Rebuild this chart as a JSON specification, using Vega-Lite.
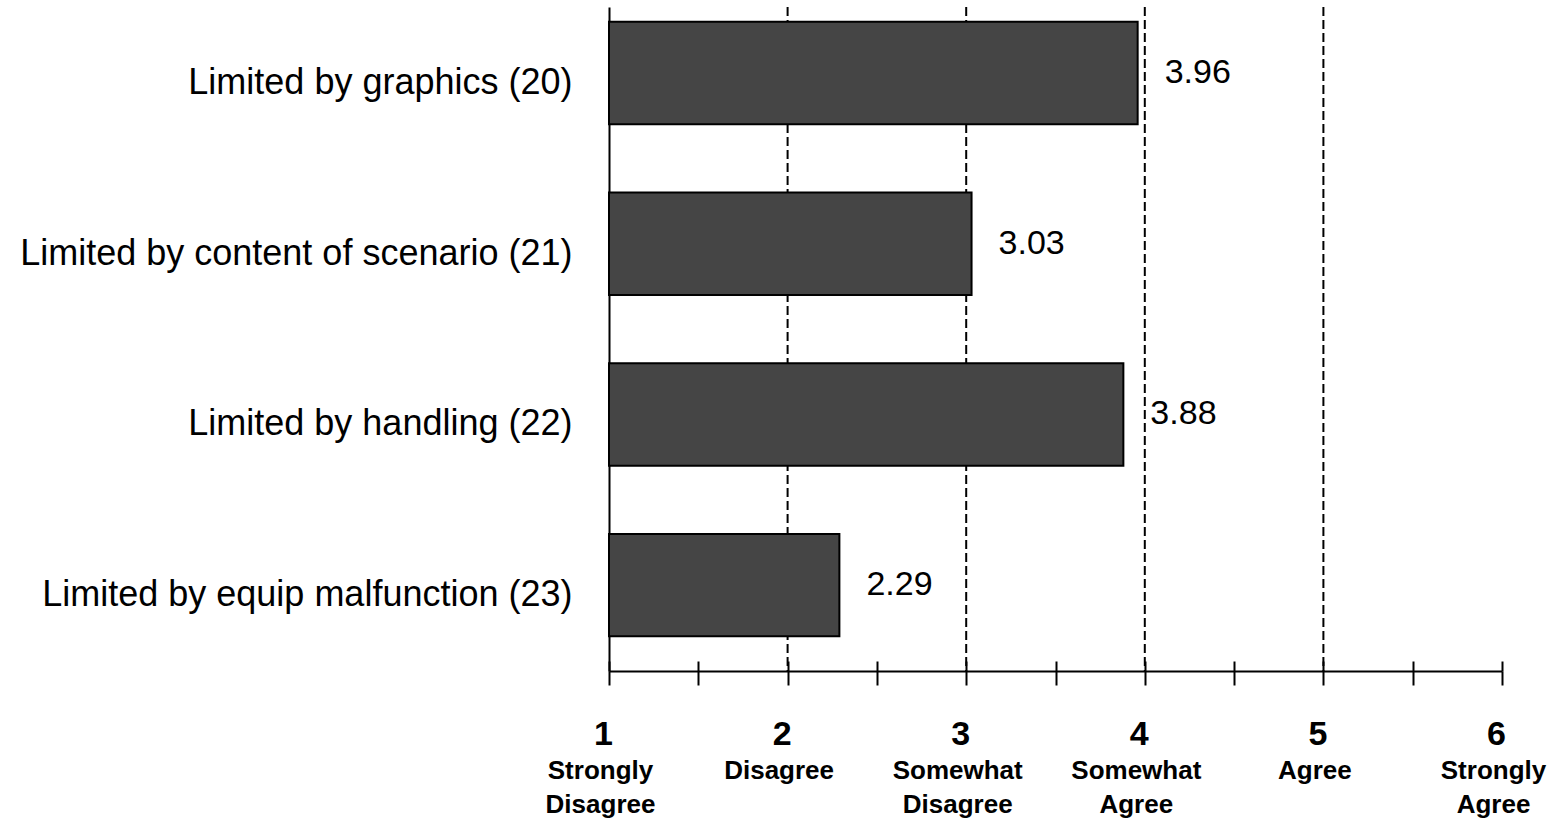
{
  "$schema": "https://vega.github.io/schema/vega-lite/v6.json",
  "autosize": "none",
  "width": 893,
  "height": 664,
  "padding": {"left": 609, "top": 7, "right": 54, "bottom": 162},
  "background": "white",
  "config": {"view": {"stroke": null}, "font": "Liberation Sans"},
  "datasets": {
    "items": [
      {"item": "Limited by graphics (20)", "score": 3.96},
      {"item": "Limited by content of scenario (21)", "score": 3.03},
      {"item": "Limited by handling (22)", "score": 3.88},
      {"item": "Limited by equip malfunction (23)", "score": 2.29}
    ],
    "grid": [{"g": 2}, {"g": 3}, {"g": 4}, {"g": 5}]
  },
  "layer": [
    {
      "data": {"name": "grid"},
      "mark": {"type": "rule", "color": "black", "strokeWidth": 2, "strokeDash": [9, 4]},
      "encoding": {
        "x": {
          "field": "g", "type": "quantitative",
          "scale": {"domain": [1, 6], "nice": false, "zero": false},
          "axis": {
            "orient": "bottom", "domain": false, "labels": false, "grid": false,
            "values": [1, 1.5, 2, 2.5, 3, 3.5, 4, 4.5, 5, 5.5, 6],
            "ticks": true, "tickSize": -10, "tickColor": "black", "tickWidth": 2, "title": null
          }
        }
      }
    },
    {
      "data": {"name": "items"},
      "mark": {"type": "bar", "color": "#454545", "stroke": "black", "strokeWidth": 2},
      "encoding": {
        "y": {
          "field": "item", "type": "nominal", "sort": null,
          "scale": {"paddingInner": 0.4, "paddingOuter": 0.145, "align": 0.3},
          "axis": {
            "title": null, "ticks": false, "domainColor": "black", "domainWidth": 2,
            "labelFontSize": 36, "labelColor": "black", "labelPadding": 37, "labelLimit": 700,
            "labelOffset": 10
          }
        },
        "x": {
          "field": "score", "type": "quantitative",
          "scale": {"domain": [1, 6], "nice": false, "zero": false},
          "axis": {
            "orient": "bottom", "title": null, "grid": false,
            "values": [1, 1.5, 2, 2.5, 3, 3.5, 4, 4.5, 5, 5.5, 6],
            "labelExpr": "datum.value % 1 == 0 ? format(datum.value, 'd') : ''",
            "domainColor": "black", "domainWidth": 2,
            "tickColor": "black", "tickWidth": 2, "tickSize": 14,
            "labelFontSize": 34, "labelFontWeight": "bold", "labelColor": "black",
            "labelPadding": 32, "labelOffset": -6, "labelFlush": false, "labelOverlap": false
          }
        },
        "x2": {"datum": 1}
      }
    },
    {
      "data": {"name": "items"},
      "mark": {"type": "text", "align": "left", "baseline": "middle", "dx": 27, "fontSize": 34, "color": "black"},
      "encoding": {
        "y": {"field": "item", "type": "nominal", "sort": null},
        "x": {
          "field": "score", "type": "quantitative",
          "axis": {
            "orient": "bottom", "title": null, "grid": false, "domain": false, "ticks": false,
            "values": [1, 2, 3, 4, 5, 6],
            "labelExpr": "datum.value == 1 ? ['Strongly', 'Disagree'] : datum.value == 2 ? 'Disagree' : datum.value == 3 ? ['Somewhat', 'Disagree'] : datum.value == 4 ? ['Somewhat', 'Agree'] : datum.value == 5 ? 'Agree' : ['Strongly', 'Agree']",
            "labelFontSize": 26, "labelFontWeight": "bold", "labelColor": "black",
            "labelLineHeight": 34, "labelPadding": 86, "labelOffset": -9,
            "labelFlush": false, "labelOverlap": false
          }
        },
        "text": {"field": "score", "type": "quantitative", "format": ".2f"}
      }
    }
  ],
  "resolve": {"axis": {"x": "independent"}}
}
